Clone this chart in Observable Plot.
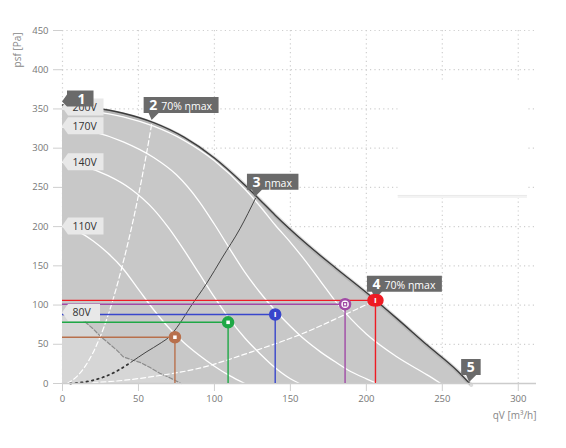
<!DOCTYPE html>
<html><head><meta charset="utf-8">
<script src="https://cdn.jsdelivr.net/npm/d3@7"></script>
<script src="https://cdn.jsdelivr.net/npm/@observablehq/plot@0.6"></script>
<style>
body{margin:0;background:#fff;}
svg{display:block;}
</style></head><body>
<script>
// ---- axes ----
const xTicks = [0, 50, 100, 150, 200, 250, 300];
const yTicks = [0, 50, 100, 150, 200, 250, 300, 350, 400, 450];
const xLabel = "qV [m³/h]";
const yLabel = "psf [Pa]";

// ---- max envelope (dark line) ----
const maxQ = [0, 20, 40, 60, 80, 100, 120, 130, 140, 160, 180, 200, 220, 240, 260, 268];
const maxP = [355, 351.5, 344.5, 332.5, 314, 287.5, 253, 234, 214.5, 179, 147, 116, 83, 49, 16, 0];

// ---- speed curves ----
const v200Q = [0, 20, 40, 60, 80, 100, 120, 130, 140, 150, 160, 170, 180, 190, 200, 220, 240, 249];
const v200P = [350, 347, 340, 328, 310, 284, 248, 226, 202, 180, 156, 130, 104, 82, 63, 34, 11, 0];
const v170Q = [0, 20, 40, 60, 75, 90, 100, 110, 120, 130, 140, 150, 160, 170, 180, 190, 200, 207];
const v170P = [327, 321, 308, 288, 266, 232, 203, 172, 142, 116, 93, 73, 55, 40, 27, 15, 6, 0];
const v140Q = [0, 15, 30, 45, 60, 70, 80, 90, 100, 110, 120, 130, 140, 150, 156];
const v140P = [282, 276, 265, 248, 222, 198, 170, 140, 110, 82, 58, 38, 20, 6, 0];
const v110Q = [0, 10, 20, 30, 40, 50, 60, 70, 80, 90, 100, 110, 120];
const v110P = [200, 194, 182, 166, 146, 120, 94, 71, 52, 36, 22, 10, 0];
const v80Q = [0, 8, 14, 20, 25, 30, 36, 40, 46, 51, 58, 64, 71, 78];
const v80P = [88, 84, 80, 70, 60, 52, 42, 34, 30, 27, 20, 13, 7, 0];

const voltNames = ["200V", "170V", "140V", "110V", "80V"];
const voltStart = [352, 328, 282, 200, 90];

// ---- efficiency lines ----
const eta70aQ = [3, 10, 20, 30, 40, 45, 50, 55, 59];
const eta70aP = [0, 10, 39, 87, 155, 195, 240, 290, 334];
const etaMaxQ = [5, 20, 35, 45, 55, 65, 70, 77, 84, 95, 105, 117, 127];
const etaMaxP = [0, 4, 15, 27, 40, 52, 59, 76, 97, 128, 160, 198, 236];
const eta70bQ = [20, 40, 60, 91, 124, 161, 185, 206];
const eta70bP = [1, 4, 9, 20, 40, 66, 87, 106];

// ---- working points ----
const wpQ = [206, 186, 140, 109, 74];
const wpP = [106, 101, 88, 78, 59];
const wpColor = ["#ee1c24", "#a04aa6", "#3846cc", "#1fa846", "#b8704c"];

// ---- callouts ----
const coNum = ["1", "2", "3", "4", "5"];
const coDesc = ["", "70% ηmax", "ηmax", "70% ηmax", ""];
const coQ = [0, 59, 127, 206, 268];
const coP = [355, 334, 236, 106, 0];

// ---- empty legend box (covers grid) ----
const boxQ = [221, 306];
const boxP = [241, 385];

const pts = (q, p) => q.map((v, i) => ({q: v, p: p[i]}));
const maxPts = pts(maxQ, maxP);
const curves = [pts(v200Q, v200P), pts(v170Q, v170P), pts(v140Q, v140P), pts(v110Q, v110P)];
const v80 = pts(v80Q, v80P);
const etaMax = pts(etaMaxQ, etaMaxP);
const wp = wpQ.map((q, i) => ({q, p: wpP[i], c: wpColor[i], i}));
const volt = voltNames.map((n, i) => ({n, p: voltStart[i]}));
const co = coNum.map((n, i) => ({n, d: coDesc[i], q: coQ[i], p: coP[i], i}));

const font = '"Open Sans", "DejaVu Sans", sans-serif';

const chart = Plot.plot({
  width: 566, height: 448,
  marginLeft: 62, marginRight: 30, marginTop: 30, marginBottom: 65,
  style: {fontFamily: font, fontSize: "9.5px", color: "#777", background: "#fff", overflow: "visible"},
  x: {domain: [0, 312], axis: null},
  y: {domain: [0, 450], axis: null},
  color: {type: "identity"},
  marks: [
    Plot.ruleX(xTicks, {stroke: "#cfcfcf", strokeDasharray: "1.2,3.2", strokeWidth: 1.2}),
    Plot.ruleY(yTicks.filter(d => d > 0), {stroke: "#cfcfcf", strokeDasharray: "1.2,3.2", strokeWidth: 1.2}),
    Plot.rect([0], {x1: boxQ[0], x2: boxQ[1], y1: boxP[0], y2: boxP[1], fill: "#fff"}),
    Plot.ruleY([boxP[0]], {x1: boxQ[0], x2: boxQ[1], stroke: "#f3f3f3", strokeWidth: 3, dy: 2}),
    Plot.ruleY([boxP[0]], {x1: boxQ[0], x2: boxQ[1], stroke: "#e9e9e9", strokeWidth: 1, dy: 1}),
    Plot.areaY(maxPts, {x: "q", y: "p", fill: "#c8c8c8", curve: "monotone-x"}),
    Plot.areaY(v80, {x: "q", y: "p", fill: "#d6d6d6", curve: "linear"}),
    Plot.line(maxPts, {x: "q", y: "p", stroke: "#8a8a8a", strokeWidth: 4, strokeOpacity: 0.3, dx: 1.5, dy: 1.5, curve: "monotone-x"}),
    ...curves.map(c => Plot.line(c, {x: "q", y: "p", stroke: "#fff", strokeWidth: 1.3, curve: "monotone-x"})),
    Plot.line(v80, {x: "q", y: "p", stroke: "#8c8c8c", strokeWidth: 1.2, strokeDasharray: "4,2", curve: "linear"}),
    Plot.line(pts(eta70aQ, eta70aP), {x: "q", y: "p", stroke: "#fff", strokeWidth: 1.2, strokeDasharray: "5,3", curve: "monotone-x"}),
    Plot.line(pts(eta70bQ, eta70bP), {x: "q", y: "p", stroke: "#fff", strokeWidth: 1.2, strokeDasharray: "5,3", curve: "monotone-x"}),
    Plot.line(etaMax.filter(d => d.q <= 45), {x: "q", y: "p", stroke: "#333", strokeWidth: 1.8, strokeDasharray: "1.5,4", curve: "monotone-x"}),
    Plot.line(etaMax.filter(d => d.q >= 45), {x: "q", y: "p", stroke: "#444", strokeWidth: 1, curve: "monotone-x"}),
    Plot.line(maxPts, {x: "q", y: "p", stroke: "#3c3c3c", strokeWidth: 1.4, curve: "monotone-x"}),
    Plot.ruleY([0], {stroke: "#cccccc", strokeWidth: 1.5}),
    // working point lines
    Plot.ruleY(wp, {y: "p", x1: 0, x2: "q", stroke: "c", strokeWidth: 1.4}),
    Plot.ruleX(wp, {x: "q", y1: 0, y2: "p", stroke: "c", strokeWidth: 1.4}),
    // axes
    Plot.axisX(xTicks, {tickSize: 8, tickPadding: 4, stroke: "#cfcfcf", fill: "#777", label: null, fontSize: 9.5}),
    Plot.axisY(yTicks, {tickSize: 9, tickPadding: 5, stroke: "#cfcfcf", fill: "#777", label: null, fontSize: 9.5}),
    Plot.text([xLabel], {frameAnchor: "bottom-right", dy: 35, textAnchor: "end", fill: "#888", fontSize: 10}),
    Plot.text([yLabel], {frameAnchor: "top-left", rotate: -90, textAnchor: "end", dx: -49, dy: 2, fill: "#888", fontSize: 10}),
    // voltage labels
    Plot.text(volt, {x: () => 0, y: "p", text: "n", dx: 10, textAnchor: "start", fill: "#333", fontSize: 10.5, className: "vlab"}),
    // callouts
    Plot.text(co.filter(d => d.i === 0), {x: "q", y: "p", text: "n", dx: 15, dy: -6, textAnchor: "start", fill: "#fff", fontWeight: "bold", fontSize: 14, className: "coleft"}),
    Plot.text(co.filter(d => d.i > 0), {x: "q", y: "p", text: "n", dx: -3, dy: -16, textAnchor: "start", fill: "#fff", fontWeight: "bold", fontSize: 14, className: "codown"}),
    // markers
    Plot.dot(wp.filter(d => d.i !== 1), {x: "q", y: "p", r: 5.5, fill: "c", stroke: "c", strokeWidth: 1.5}),
    Plot.dot(wp.filter(d => d.i === 0), {x: "q", y: "p", r: 5.5, fill: "c", stroke: "c", dx: 2}),
    Plot.dot(wp.filter(d => d.i === 0), {x: "q", y: "p", r: 5.5, fill: "c", stroke: "c", dx: -2}),
    Plot.dot(wp.filter(d => d.i === 1), {x: "q", y: "p", r: 5, fill: "#fff", stroke: "c", strokeWidth: 2.5}),
    Plot.dot(wp.filter(d => d.i === 1), {x: "q", y: "p", r: 1.8, symbol: "square", fill: "none", stroke: "c", strokeWidth: 1.2}),
    Plot.dot(wp.filter(d => d.i >= 3), {x: "q", y: "p", r: 2, symbol: "square", fill: "#fff"}),
    Plot.text(wp.filter(d => d.i === 0 || d.i === 2), {x: "q", y: "p", text: () => "ı", fill: "#fff", fontWeight: "bold", fontSize: 9})
  ]
});

document.body.appendChild(chart);

// ---- callout / label backgrounds ----
const sx = chart.scale("x"), sy = chart.scale("y");
const svgR = chart.getBoundingClientRect();
const bb = el => { const r = el.getBoundingClientRect(); return {x: r.left - svgR.left, y: r.top - svgR.top, w: r.width, h: r.height}; };

// voltage labels
const vg = chart.querySelector("g.vlab");
if (vg) {
  const g = d3.create("svg:g");
  vg.querySelectorAll("text").forEach((t, i) => {
    const ax = sx.apply(0), ay = sy.apply(volt[i].p);
    const b = bb(t);
    const right = Math.max(b.x + b.w + 6, ax + 38);
    g.append("path").attr("d", `M${ax},${ay}L${ax + 6},${ay - 8.5}H${right}V${ay + 8.5}H${ax + 6}Z`).attr("fill", "#e8e8e8");
  });
  vg.parentNode.insertBefore(g.node(), vg);
}

// callouts
const addDesc = (grp, data) => {
  grp.querySelectorAll("text").forEach((t, k) => {
    const d = data[k];
    if (d.d) {
      d3.select(t).append("tspan").attr("dx", 4).attr("font-size", 10.5).attr("font-weight", "normal").text(d.d);
    }
  });
};
const gl = chart.querySelector("g.coleft"), gd = chart.querySelector("g.codown");
const leftData = co.filter(d => d.i === 0), downData = co.filter(d => d.i > 0);
if (gl) addDesc(gl, leftData);
if (gd) addDesc(gd, downData);
const cg = d3.create("svg:g");
if (gl) gl.querySelectorAll("text").forEach((t, k) => {
  const d = leftData[k];
  const ax = sx.apply(d.q), ay = sy.apply(d.p);
  const b = bb(t);
  const left = ax + 5, right = b.x + b.w + 8, top = ay - 14, bottom = ay + 2;
  cg.append("path").attr("d", `M${left},${top}H${right}V${bottom}H${left}L${ax},${ay - 3}L${left},${top + 4}Z`).attr("fill", "#6a6a6a");
});
if (gd) gd.querySelectorAll("text").forEach((t, k) => {
  const d = downData[k];
  const ax = sx.apply(d.q), ay = sy.apply(d.p);
  const b = bb(t);
  const left = ax - 8, right = b.x + b.w + 6, bottom = ay - 8, top = bottom - 16;
  cg.append("path").attr("d", `M${left},${top}H${right}V${bottom}H${ax + 7}L${ax},${ay - 1}L${ax - 3},${bottom}H${left}Z`).attr("fill", "#6a6a6a");
});
const firstCo = gl || gd;
if (firstCo) firstCo.parentNode.insertBefore(cg.node(), firstCo);
</script>
</body></html>
